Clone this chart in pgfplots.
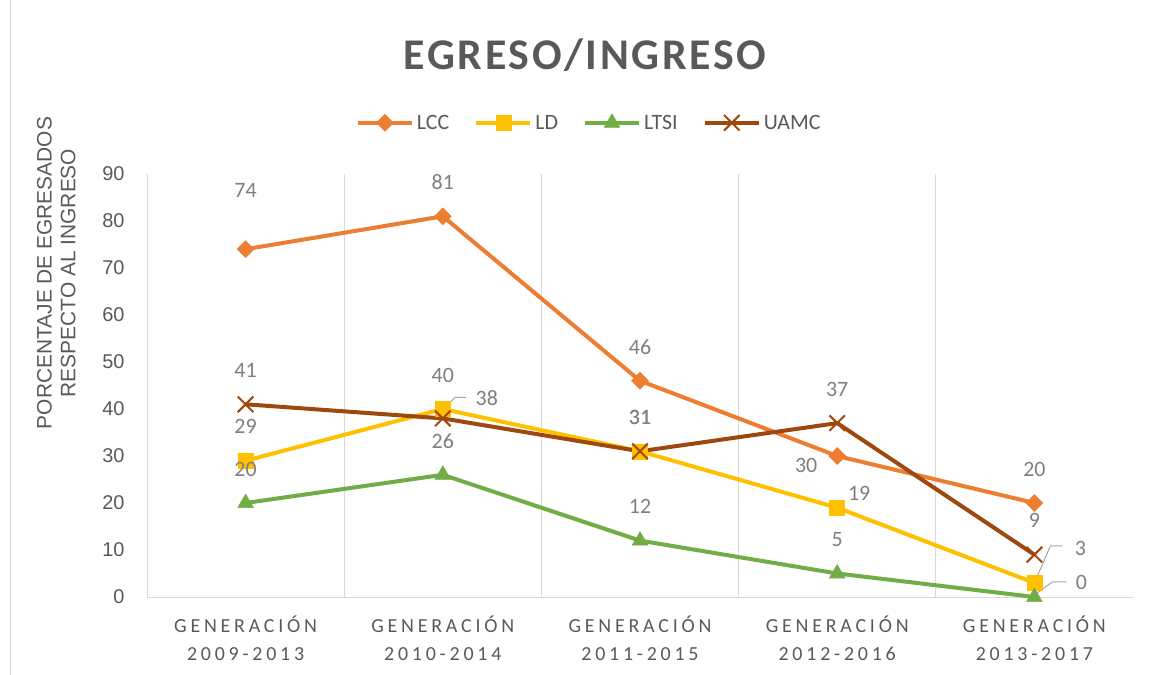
\documentclass[border=0pt]{standalone}
\usepackage{fontspec}
\setmainfont{Carlito}
\newfontfamily\arialfont{Liberation Sans}
\newfontfamily\titlefont[LetterSpace=6]{Carlito}
\newfontfamily\catfont[LetterSpace=19]{Carlito}
\usepackage{pgfplots}
\pgfplotsset{compat=1.18}

\definecolor{lcc}{HTML}{ED7D31}
\definecolor{ld}{HTML}{FFC000}
\definecolor{ltsi}{HTML}{70AD47}
\definecolor{uamc}{HTML}{9E480E}
\definecolor{txt}{HTML}{595959}
\definecolor{lbl}{HTML}{7F7F7F}
\definecolor{grd}{HTML}{D9D9D9}
\definecolor{leader}{HTML}{A6A6A6}

\begin{document}
\begin{tikzpicture}
\path[use as bounding box] (0,0) rectangle (1159bp,675bp);
\draw[grd, line width=1bp] (10bp,0) -- (10bp,675bp);
\node[font=\titlefont\bfseries\fontsize{44}{48}\selectfont, text=txt] at (585bp,620bp) {EGRESO/INGRESO};

\begin{axis}[
    at={(147bp,78bp)}, anchor=south west,
    width=986bp, height=423bp, scale only axis,
    xmin=-0.5, xmax=4.5, ymin=0, ymax=90,
    clip=false,
    axis x line*=bottom, axis y line*=left,
    axis line style={grd, line width=1bp, -},
    major tick length=0, minor tick length=0,
    xtick={0,1,2,3,4},
    xticklabels={{GENERACIÓN\\2009-2013},{GENERACIÓN\\2010-2014},{GENERACIÓN\\2011-2015},
                 {GENERACIÓN\\2012-2016},{GENERACIÓN\\2013-2017}},
    x tick label style={font=\catfont\fontsize{20}{28}\selectfont, text=txt, align=center, yshift=-15bp},
    minor xtick={0.5,1.5,2.5,3.5},
    xminorgrids,
    minor grid style={grd, line width=1.2bp},
    ytick={0,10,...,90},
    y tick label style={font=\arialfont\fontsize{20}{24}\selectfont, text=txt, xshift=-19bp},
    /pgf/number format/assume math mode=true,
    ylabel={PORCENTAJE DE EGRESADOS\\RESPECTO AL INGRESO},
    ylabel style={font=\arialfont\fontsize{21}{24}\selectfont, text=txt, align=center,
                  at={(axis description cs:-0.092,0.766)}, anchor=center},
    legend style={at={(axis description cs:0.449,1.121)}, anchor=center,
                  draw=none, fill=none, font=\fontsize{22}{26}\selectfont, text=txt,
                  legend columns=4, nodes={inner sep=3bp},
                  /tikz/every even column/.append style={column sep=22bp}},
    legend image code/.code={\draw[mark repeat=2,mark phase=2] plot coordinates {(0bp,0bp) (27bp,0bp) (54bp,0bp)};},
    every node near coord/.append style={font=\fontsize{22}{26}\selectfont, text=lbl, anchor=center, yshift=34bp},
]

\addplot[color=lcc, line width=4bp, mark=square*, mark size=6bp,
         mark options={rotate=45, line width=0.5bp},
         nodes near coords,
         coordinate style/.condition={\coordindex==0}{yshift=25bp},
         coordinate style/.condition={\coordindex==3}{xshift=-31bp, yshift=-43bp}]
    coordinates {(0,74) (1,81) (2,46) (3,30) (4,20)};
\addlegendentry{LCC}

\addplot[color=ld, line width=4bp, mark=square*, mark size=7.5bp,
         mark options={line width=0.5bp},
         nodes near coords,
         coordinate style/.condition={\coordindex==3}{xshift=22bp, yshift=-20bp},
         coordinate style/.condition={\coordindex==4}{xshift=46bp}]
    coordinates {(0,29) (1,40) (2,31) (3,19) (4,3)};
\addlegendentry{LD}

\addplot[color=ltsi, line width=4bp, mark=triangle*, mark size=9bp,
         mark options={line width=0.5bp},
         nodes near coords,
         coordinate style/.condition={\coordindex==4}{xshift=47bp, yshift=-19bp}]
    coordinates {(0,20) (1,26) (2,12) (3,5) (4,0)};
\addlegendentry{LTSI}

\addplot[color=uamc, line width=4bp, mark=x, mark size=11bp,
         mark options={line width=2bp},
         nodes near coords,
         coordinate style/.condition={\coordindex==1}{xshift=44bp, yshift=-14bp}]
    coordinates {(0,41) (1,38) (2,31) (3,37) (4,9)};
\addlegendentry{UAMC}

% leader lines for the moved labels
\draw[leader, line width=1bp] (axis cs:1,38) ++(0bp,8bp) -- ++(12bp,13bp) -- ++(11bp,0bp);
\draw[leader, line width=1bp] (axis cs:4,3) -- ++(16bp,37bp) -- ++(12bp,0bp);
\draw[leader, line width=1bp] (axis cs:4,0) ++(0bp,2bp) -- ++(18bp,13bp) -- ++(14bp,0bp);
\end{axis}
\end{tikzpicture}
\end{document}
